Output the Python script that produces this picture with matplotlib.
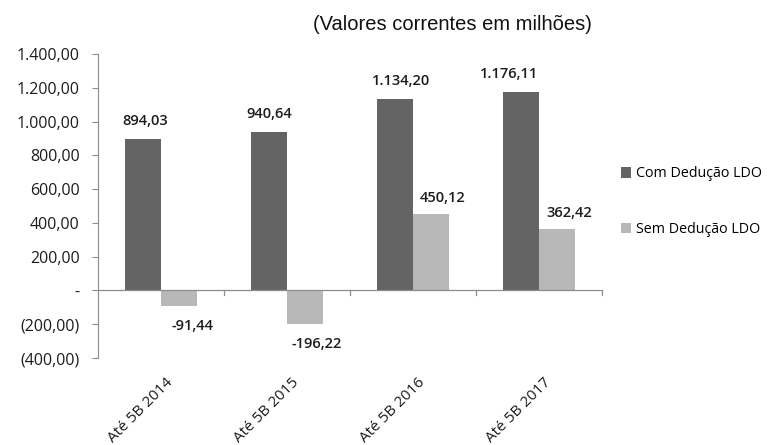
import matplotlib
matplotlib.use("Agg")
import matplotlib.pyplot as plt
import matplotlib.transforms as mtransforms
import numpy as np

categorias = ["Até 5B 2014", "Até 5B 2015", "Até 5B 2016", "Até 5B 2017"]
com_deducao = [894.03, 940.64, 1134.20, 1176.11]
sem_deducao = [-91.44, -196.22, 450.12, 362.42]
series_nomes = ["Com Dedução LDO", "Sem Dedução LDO"]
yticks = [-400, -200, 0, 200, 400, 600, 800, 1000, 1200, 1400]

# deslocamento horizontal dos rótulos (pixels), como ficaram no gráfico original
desloc_com = [2, 0, 6, -12]
desloc_sem = [13, 12, 12, 12]


def fmt_br(v):
    s = "{:,.2f}".format(abs(v)).replace(",", "X").replace(".", ",").replace("X", ".")
    return s


def fmt_eixo(v):
    if v == 0:
        return "-"
    if v < 0:
        return "(" + fmt_br(v) + ")"
    return fmt_br(v)


def fmt_rotulo(v):
    return ("-" if v < 0 else "") + fmt_br(v)


fonte = "Open Sans"
cor_texto = "#1c1c1c"
cinza_escuro = "#646464"
cinza_claro = "#b8b8b8"
cor_eixo = "#8c8c8c"

fig = plt.figure(figsize=(7.73, 4.45), dpi=100)
ax = fig.add_axes([0.1268, 0.1955, 0.652, 0.6832])

x = np.arange(len(categorias))
w = 0.286
b1 = ax.bar(x - w / 2, com_deducao, w, color=cinza_escuro, label=series_nomes[0])
b2 = ax.bar(x + w / 2, sem_deducao, w, color=cinza_claro, label=series_nomes[1])

ax.set_xlim(-0.5, len(categorias) - 0.5)
ax.set_ylim(-400, 1400)

# rótulos de valor
estilo = dict(ha="center", va="center", fontsize=10.5, family=fonte,
              weight="semibold", color=cor_texto, textcoords="offset pixels")
for xi, v, dx in zip(x - w / 2, com_deducao, desloc_com):
    ax.annotate(fmt_rotulo(v), (xi, v), xytext=(dx, 18), **estilo)
for xi, v, dx in zip(x + w / 2, sem_deducao, desloc_sem):
    dy = 16 if v >= 0 else -20
    ax.annotate(fmt_rotulo(v), (xi, v), xytext=(dx, dy), **estilo)

# eixos
for s in ["top", "right", "bottom"]:
    ax.spines[s].set_visible(False)
ax.spines["left"].set_color(cor_eixo)
ax.axhline(0, color=cor_eixo, lw=0.9)

ax.set_yticks(yticks)
ax.set_yticklabels([fmt_eixo(v) for v in yticks], family=fonte, fontsize=11.5, color=cor_texto)
ax.tick_params(axis="y", direction="out", length=4.3, color=cor_eixo, pad=9)

ax.set_xticks(x)
ax.set_xticklabels(categorias, rotation=45, ha="right", rotation_mode="anchor",
                   family=fonte, fontsize=11, color=cor_texto)
ax.tick_params(axis="x", length=0, pad=12)
desl = mtransforms.ScaledTranslation(4 / 100, 0, fig.dpi_scale_trans)
for lbl in ax.get_xticklabels():
    lbl.set_transform(lbl.get_transform() + desl)
for b in np.arange(0.5, len(categorias), 1.0):
    ax.plot([b, b], [0, -25], color=cor_eixo, lw=0.9, clip_on=False)

ax.legend(handles=[b1, b2], loc="upper left", bbox_to_anchor=(0.803, 0.626),
          bbox_transform=fig.transFigure, borderaxespad=0, borderpad=0,
          frameon=False, prop={"family": fonte, "size": 10.3}, handlelength=0.75,
          handleheight=0.75, handletextpad=0.3, labelspacing=2.85)

fig.text(0.405, 0.945, "(Valores correntes em milhões)", family="Liberation Sans",
         fontsize=14.5, ha="left", va="center", color="#111111")

fig.savefig("out.png", dpi=100)
